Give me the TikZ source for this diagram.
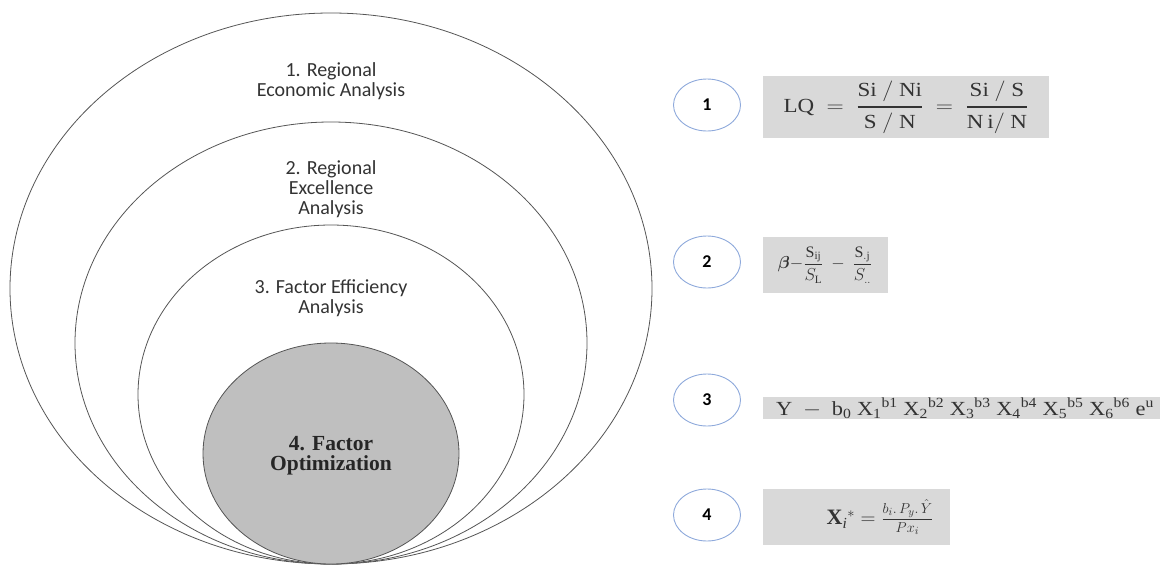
\documentclass[tikz,border=0pt]{standalone}
\usepackage{fontspec}
\usepackage{amsmath}
\usepackage{graphicx}
\setmainfont{Liberation Serif}
\newfontfamily\labelfont{Carlito}
\usetikzlibrary{shapes.geometric}
\definecolor{ringline}{HTML}{555555}
\definecolor{corefill}{HTML}{BFBFBF}
\definecolor{badgeline}{HTML}{8EA9DB}
\definecolor{panelfill}{HTML}{D9D9D9}
\definecolor{inktext}{HTML}{333333}
% display-size fraction with a heavy rule
\newcommand{\thickfrac}[2]{\genfrac{}{}{1.6pt}{0}{#1}{#2}}
% text-size fraction with a heavy rule
\newcommand{\smallthickfrac}[2]{\genfrac{}{}{1.4pt}{1}{#1}{#2}}
\begin{document}
\begin{tikzpicture}[x=1pt,y=-1pt,
  ring/.style={ellipse, draw=ringline, line width=0.8pt, fill=white, inner sep=0pt, outer sep=0pt},
  ringtext/.style={font=\labelfont\fontsize{20}{20}\selectfont, text=inktext, align=center},
  coretext/.style={font=\bfseries\fontsize{21.5}{20}\selectfont, text=black!85, align=center},
  badge/.style={ellipse, draw=badgeline, line width=0.9pt, minimum width=67pt, minimum height=52pt, inner sep=0pt, font=\labelfont\bfseries\fontsize{18}{20}\selectfont},
  panel/.style={rectangle, fill=panelfill, inner sep=0pt, outer sep=0pt, anchor=north west},
  formula/.style={text=inktext, inner sep=0pt}
]
\useasboundingbox (0,0) rectangle (1163,565);

% nested analysis levels
\node[ring, minimum width=642pt, minimum height=551pt] (r1) at (331,288.5) {};
\node[ring, minimum width=512pt, minimum height=442pt] (r2) at (331,343) {};
\node[ring, minimum width=386pt, minimum height=339pt] (r3) at (331,394.5) {};
\node[ring, fill=corefill, minimum width=256pt, minimum height=221pt] (r4) at (331,453.5) {};

\node[ringtext] (t1) at (331,81) {1. Regional\\Economic Analysis};
\node[ringtext] (t2) at (331,189) {2. Regional\\Excellence\\Analysis};
\node[ringtext] (t3) at (331,298) {3. Factor Efficiency\\Analysis};
\node[coretext] (t4) at (331,456) {4. Factor\\Optimization};

% numbered badges
\node[badge] (b1) at (707,105) {1};
\node[badge] (b2) at (707,262) {2};
\node[badge] (b3) at (707,400) {3};
\node[badge] (b4) at (707,515) {4};

% formula panels
\node[panel, minimum width=286pt, minimum height=62pt] (p1) at (763,76) {};
\node[panel, minimum width=125pt, minimum height=56pt] (p2) at (763,237) {};
\node[panel, minimum width=397pt, minimum height=22pt] (p3) at (763,397) {};
\node[panel, minimum width=187pt, minimum height=56pt] (p4) at (763,489) {};

\node[formula, font=\fontsize{20}{22}\selectfont] (f1) at (906,107)
  {\scalebox{1.15}[1]{$\mathrm{LQ}\ =\ \thickfrac{\mathrm{Si\ /\ Ni}}{\mathrm{S\ /\ N}}\ =\ \thickfrac{\mathrm{Si\ /\ S}}{\mathrm{N\,i/\ N}}$}};
\node[formula, font=\fontsize{16}{20}\selectfont] (f2) at (825,265)
  {$\boldsymbol{\beta}{-}\dfrac{\mathrm{S_{ij}}}{S_{\mathrm{L}}}\ -\ \dfrac{\mathrm{S_{.j}}}{S_{..}}$};
\node[formula, font=\fontsize{20}{22}\selectfont] (f3) at (965,408)
  {\scalebox{1.12}[1]{$\mathrm{Y}\ -\ \mathrm{b_0}\ \mathrm{X_1{}^{b1}}\ \mathrm{X_2{}^{b2}}\ \mathrm{X_3{}^{b3}}\ \mathrm{X_4{}^{b4}}\ \mathrm{X_5{}^{b5}}\ \mathrm{X_6{}^{b6}}\ \mathrm{e^u}$}};
\node[formula, font=\fontsize{22}{24}\selectfont] (f4) at (880,517)
  {$\mathbf{X_{\mathit{i}}}{}^{*} = \smallthickfrac{b_i.\,P_y.\,\hat{Y}}{Px_i}$};
\end{tikzpicture}
\end{document}
